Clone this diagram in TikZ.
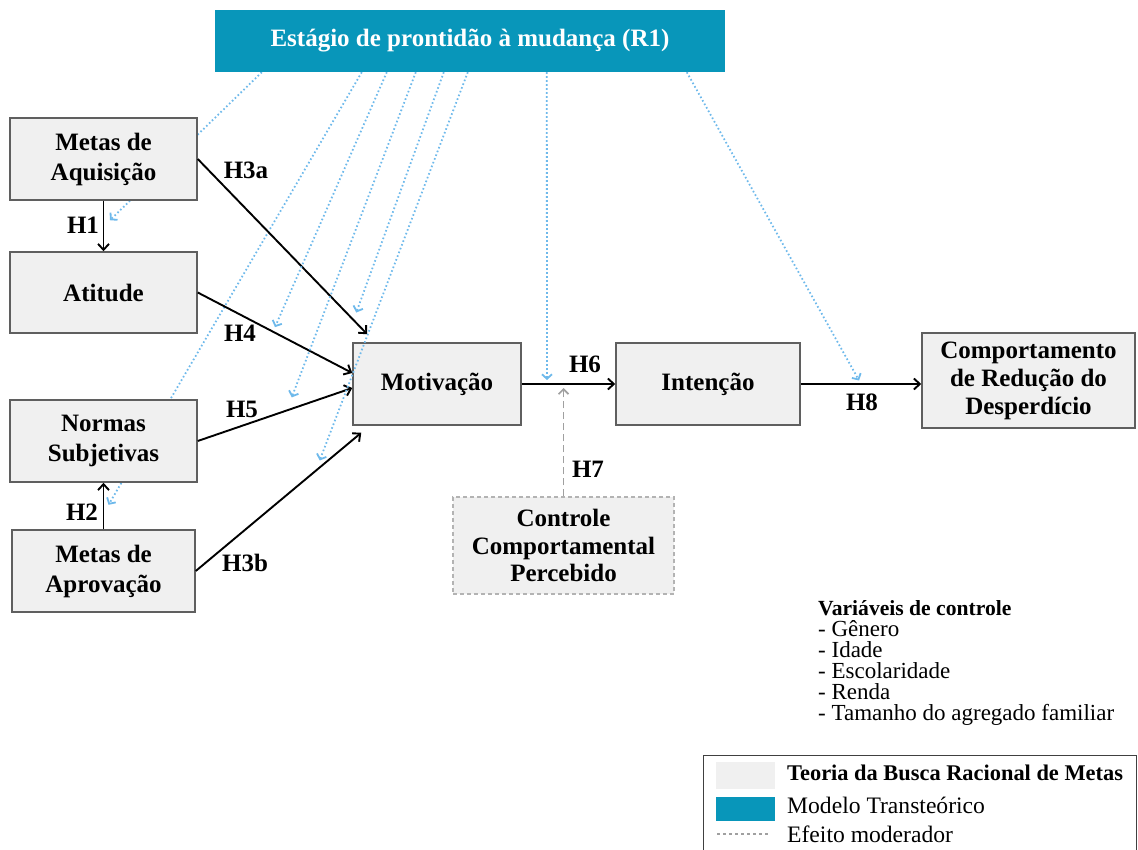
\documentclass[tikz,border=0pt]{standalone}
\usepackage{fontspec}
\setmainfont{Liberation Serif}
\usetikzlibrary{arrows.meta, calc, backgrounds}

\definecolor{tmtblue}{RGB}{8,150,186}
\definecolor{boxfill}{RGB}{240,240,240}
\definecolor{boxline}{RGB}{95,95,95}
\definecolor{modblue}{RGB}{110,185,235}
\definecolor{ccpgray}{RGB}{160,160,160}

\tikzset{
  gbox/.style={draw=boxline, fill=boxfill, line width=1.5pt, align=center, inner sep=2pt,
    font=\bfseries\fontsize{25}{30}\selectfont},
  hyparrow/.style={line width=1.9pt, -{Straight Barb[length=6pt,width=11pt]}},
  modarrow/.style={modblue, line width=1.8pt, dash pattern=on 1.6pt off 2.4pt, -{Straight Barb[length=4.5pt,width=10pt]}},
  ccparrow/.style={ccpgray, line width=1.7pt, dash pattern=on 7pt off 4pt, -{Straight Barb[length=5pt,width=10pt]}},
  lbl/.style={font=\bfseries\fontsize{25}{30}\selectfont, inner sep=0pt},
}

\begin{document}
\begin{tikzpicture}[x=1pt, y=-1pt]
    \useasboundingbox (0,0) rectangle (1138,850);

    % Modelo transteorico
    \node[fill=tmtblue, text=white, font=\bfseries\fontsize{25}{28}\selectfont,
          minimum width=510pt, minimum height=62pt] (r1) at (470,41) {Estágio de prontidão à mudança (R1)};

    % Construtos
    \node[gbox, minimum width=187pt, minimum height=82pt] (aqui) at (103.5,159) {Metas de\\Aquisição};
    \node[gbox, minimum width=187pt, minimum height=81pt] (atit) at (103.5,292.5) {Atitude};
    \node[gbox, minimum width=187pt, minimum height=82pt] (norm) at (103.5,441) {Normas\\Subjetivas};
    \node[gbox, minimum width=183pt, minimum height=82pt] (aprov) at (103.5,571) {Metas de\\Aprovação};
    \node[gbox, minimum width=168pt, minimum height=82pt] (motiv) at (437,384) {Motivação};
    \node[gbox, minimum width=184pt, minimum height=82pt] (inten) at (708,384) {Intenção};
    \node[gbox, font=\bfseries\fontsize{25}{28}\selectfont, minimum width=213pt, minimum height=95pt] (comp) at (1028.5,380.5) {Comportamento\\de Redução do\\Desperdício};
    \node[gbox, draw=ccpgray!80, line width=1.2pt, dash pattern=on 4pt off 3pt, font=\bfseries\fontsize{25}{27.5}\selectfont, minimum width=221pt, minimum height=97pt] (ccp) at (563.5,545.5) {Controle\\Comportamental\\Percebido};

    % Hipoteses
    \draw[hyparrow] (aqui) -- (atit) coordinate[pos=0.51] (onH1);
    \draw[hyparrow] (aprov) -- (norm) coordinate[pos=0.34] (onH2);
    \draw[hyparrow] (aqui.east) -- ($(motiv.north west)+(15,-8)$) coordinate[pos=0.919] (onH3a);
    \draw[hyparrow] (atit.east) -- ($(motiv.west)+(0,-11)$) coordinate[pos=0.487] (onH4);
    \draw[hyparrow] (norm.east) -- ($(motiv.west)+(0,4)$) coordinate[pos=0.576] (onH5);
    \draw[hyparrow] (aprov.east) -- ($(motiv.south west)+(9,7)$) coordinate[pos=0.725] (onH3b);
    \draw[hyparrow] (motiv) -- (inten) coordinate[pos=0.27] (onH6) coordinate[pos=0.43] (onH7);
    \draw[hyparrow] (inten.east) -- (inten.east -| comp.west) coordinate[pos=0.5] (onH8);
    \draw[ccparrow, shorten >=4pt] (ccp.north) -- (ccp.north |- onH7);

    % Efeito moderador do estagio
    \begin{scope}[on background layer]
        \draw[modarrow, shorten >=9pt] ($(r1.south west)+(47,0)$) -- (onH1);
        \draw[modarrow, shorten >=10pt] ($(r1.south west)+(147,0)$) -- (onH2);
    \end{scope}
    \draw[modarrow, shorten >=5pt] ($(r1.south west)+(172,0)$) -- (onH4);
    \draw[modarrow, shorten >=14pt] ($(r1.south west)+(201,0)$) -- (onH5);
    \draw[modarrow, shorten >=8pt] ($(r1.south west)+(229,0)$) -- (onH3a);
    \draw[modarrow, shorten >=11pt] ($(r1.south west)+(253,0)$) -- (onH3b);
    \draw[modarrow, shorten >=4pt] ($(r1.south west)+(332,0)$) -- (onH6);
    \draw[modarrow, shorten >=4pt] ($(r1.south west)+(472,0)$) -- (onH8);

    % Rotulos
    \node[lbl] (lH1) at (83,225) {H1};
    \node[lbl] (lH2) at (82,512) {H2};
    \node[lbl] (lH3a) at (246,170) {H3a};
    \node[lbl] (lH4) at (240,333) {H4};
    \node[lbl] (lH5) at (242,409) {H5};
    \node[lbl] (lH3b) at (245,563) {H3b};
    \node[lbl] (lH6) at (585,364) {H6};
    \node[lbl] (lH7) at (588,469) {H7};
    \node[lbl] (lH8) at (862,402) {H8};

    % Variaveis de controle
    \node[anchor=north west, align=left, inner sep=0pt, font=\fontsize{23}{21}\selectfont] (ctrl) at (818,600)
        {{\bfseries\fontsize{21.6}{21}\selectfont Variáveis de controle}\\- Gênero\\- Idade\\- Escolaridade\\- Renda\\- Tamanho do agregado familiar};

    % Legenda
    \draw[black!75, line width=0.8pt] (703,755) rectangle (1136,880);
    \fill[boxfill] (716,762) rectangle (775,789);
    \fill[tmtblue] (716,797) rectangle (775,821);
    \draw[ccpgray, line width=1.2pt, dashed] (717,834) -- (770,834);
    \node[anchor=west, inner sep=0pt, font=\bfseries\fontsize{22.4}{24}\selectfont] (legT) at (787,773) {Teoria da Busca Racional de Metas};
    \node[anchor=west, inner sep=0pt, font=\fontsize{23.6}{24}\selectfont] (legM) at (787,805) {Modelo Transteórico};
    \node[anchor=west, inner sep=0pt, font=\fontsize{23.6}{24}\selectfont] (legE) at (787,834) {Efeito moderador};
\end{tikzpicture}
\end{document}
